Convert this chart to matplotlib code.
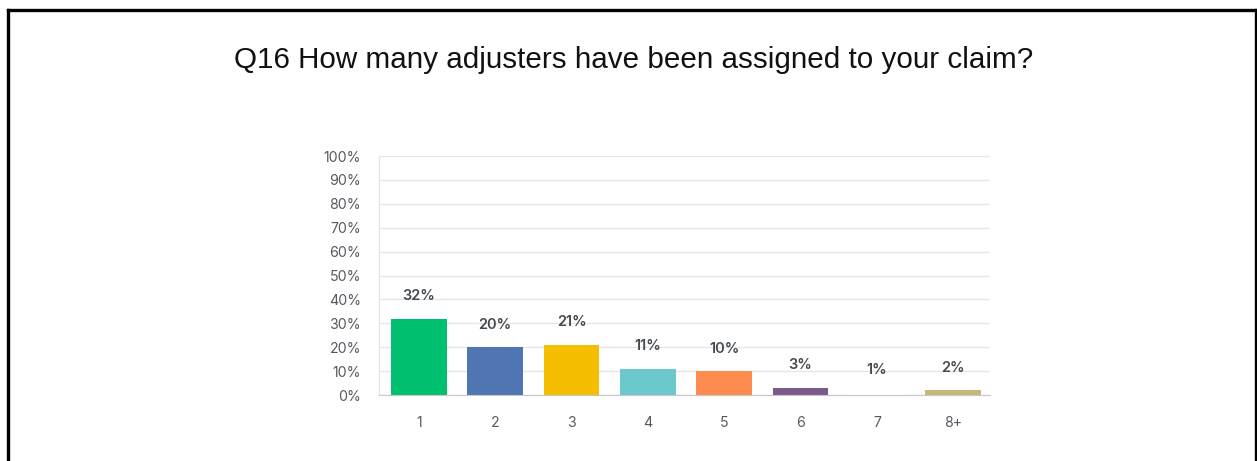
import matplotlib.pyplot as plt
from matplotlib.lines import Line2D

# Survey responses, Q16
answers = ["1", "2", "3", "4", "5", "6", "7", "8+"]
shares = [32, 20, 21, 11, 10, 3, 1, 2]
bar_colors = ["#00BF6F", "#5075B3", "#F5BE00", "#6BC8CD",
              "#FF8B4F", "#7D5A8C", "#FFFFFF", "#C6B879"]
y_ticks = list(range(0, 101, 10))

fig = plt.figure(figsize=(12.57, 4.61), dpi=100)
fig.patch.set_facecolor("white")

# black frame around the panel (open at the bottom)
for xs, ys in [([7.5 / 1257, 7.5 / 1257], [0, 1 - 10.5 / 461]),
               ([7.5 / 1257, 1255.5 / 1257], [1 - 10.5 / 461, 1 - 10.5 / 461]),
               ([1255.5 / 1257, 1255.5 / 1257], [0, 1 - 10.5 / 461])]:
    fig.add_artist(Line2D(xs, ys, transform=fig.transFigure, color="black", linewidth=2.4))

fig.text(634 / 1257, 1 - 60 / 461, "Q16 How many adjusters have been assigned to your claim?",
         ha="center", va="center", fontsize=21.3, family="Liberation Sans", color="#111111")

ax = fig.add_axes([379 / 1257, 66 / 461, 611 / 1257, 239 / 461])
x = list(range(len(answers)))
ax.bar(x, shares, width=0.73, color=bar_colors, zorder=3)

for xi, v in zip(x, shares):
    ax.text(xi, v + 6.5, f"{v}%", ha="center", va="bottom", fontsize=10.5,
            family="Inter", fontweight="semibold", color="#444A50")

ax.set_xlim(-0.52, 7.48)
ax.set_ylim(0, 100)
ax.set_yticks(y_ticks)
ax.set_yticklabels([f"{t}%" for t in y_ticks])
ax.set_xticks(x)
ax.set_xticklabels(answers)
ax.tick_params(axis="both", length=0, labelsize=10.2, labelcolor="#555A60")
ax.tick_params(axis="y", pad=13)
ax.tick_params(axis="x", pad=15)
for lbl in ax.get_xticklabels() + ax.get_yticklabels():
    lbl.set_family("Inter")

ax.grid(True, axis="y", color="#E6E6E6", linewidth=1, zorder=0)
for side in ["top", "right"]:
    ax.spines[side].set_visible(False)
ax.spines["left"].set_color("#E3E3E3")
ax.spines["bottom"].set_color("#C8C8C8")
ax.spines["bottom"].set_zorder(4)

fig.savefig("out.png", dpi=100)
